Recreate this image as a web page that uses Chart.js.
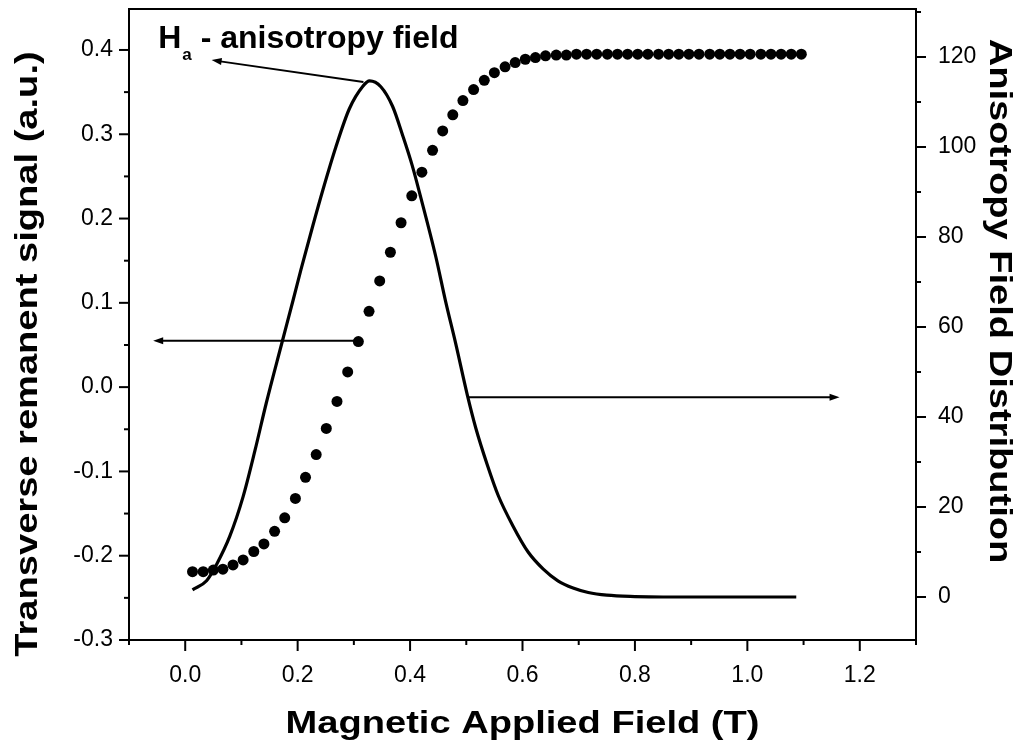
<!DOCTYPE html>
<html>
<head>
<meta charset="utf-8">
<script src="https://cdn.jsdelivr.net/npm/chart.js@4.4.0/dist/chart.umd.min.js"></script>
<style>
  html, body { margin: 0; padding: 0; background: #fff; }
</style>
</head>
<body>
<canvas id="grafico" width="1029" height="744"></canvas>
<script>
// Transverse remanent signal (dots, left axis)
const fieldDots = [0.013, 0.032, 0.050, 0.067, 0.085, 0.103, 0.122, 0.140, 0.159, 0.177,
  0.196, 0.214, 0.233, 0.251, 0.270, 0.289, 0.308, 0.327, 0.346, 0.365,
  0.384, 0.403, 0.421, 0.440, 0.458, 0.476, 0.494, 0.513, 0.532, 0.550,
  0.569, 0.587, 0.605, 0.623, 0.641, 0.660, 0.678, 0.696, 0.714, 0.732,
  0.751, 0.769, 0.787, 0.805, 0.823, 0.842, 0.860, 0.878, 0.896, 0.914,
  0.933, 0.951, 0.969, 0.987, 1.005, 1.024, 1.042, 1.060, 1.078, 1.096];
const remanentSignal = [-0.219, -0.219, -0.217, -0.216, -0.211, -0.205, -0.195, -0.186, -0.171, -0.155,
  -0.132, -0.107, -0.080, -0.049, -0.017, 0.018, 0.054, 0.090, 0.126, 0.160,
  0.195, 0.227, 0.255, 0.281, 0.304, 0.323, 0.340, 0.353, 0.364, 0.373,
  0.380, 0.385, 0.389, 0.391, 0.393, 0.394, 0.394, 0.395, 0.395, 0.395,
  0.395, 0.395, 0.395, 0.395, 0.395, 0.395, 0.395, 0.395, 0.395, 0.395,
  0.395, 0.395, 0.395, 0.395, 0.395, 0.395, 0.395, 0.395, 0.395, 0.395];

// Anisotropy field distribution (solid line, right axis)
const fieldCurve = [0.013, 0.038, 0.056, 0.079, 0.103, 0.124, 0.144, 0.171, 0.192, 0.206,
  0.227, 0.245, 0.268, 0.292, 0.316, 0.328, 0.348, 0.369, 0.387, 0.404,
  0.419, 0.446, 0.463, 0.481, 0.502, 0.517, 0.537, 0.557, 0.583, 0.610,
  0.637, 0.663, 0.690, 0.717, 0.750, 0.800, 0.850, 0.950, 1.087];
const distribution = [1.6, 3.6, 7.3, 13.4, 22.3, 32.5, 43.0, 56.0, 66.0, 72.8,
  82.5, 90.5, 100.0, 108.5, 113.5, 114.7, 113.4, 109.0, 102.5, 95.8,
  88.8, 75.5, 65.8, 56.4, 44.8, 37.5, 29.5, 22.5, 15.8, 10.0,
  6.2, 3.6, 2.0, 1.0, 0.4, 0.1, 0.0, 0.0, 0.0];

// Ticks (major ones carry a label)
const xMajorTicks = [0.0, 0.2, 0.4, 0.6, 0.8, 1.0, 1.2];
const xMinorTicks = [-0.1, 0.1, 0.3, 0.5, 0.7, 0.9, 1.1, 1.3];
const leftMajorTicks = [-0.3, -0.2, -0.1, 0.0, 0.1, 0.2, 0.3, 0.4];
const leftMinorTicks = [-0.25, -0.15, -0.05, 0.05, 0.15, 0.25, 0.35];
const rightMajorTicks = [0, 20, 40, 60, 80, 100, 120];
const rightMinorTicks = [10, 30, 50, 70, 90, 110, 130];

const xTitle = "Magnetic Applied Field (T)";
const leftTitle = "Transverse remanent signal (a.u.)";
const rightTitle = "Anisotropy Field Distribution";

const FONT = '"Liberation Sans", Arial, Helvetica, sans-serif';

// Checks if a value is in a list of ticks
function inList(list, v) {
  return list.some(t => Math.abs(t - v) < 1e-9);
}

function setTicks(major, minor) {
  return function (scale) {
    scale.ticks = major.concat(minor).sort((a, b) => a - b).map(v => ({ value: v }));
  };
}

function fixSize(prop, size) {
  return function (scale) {
    scale[prop] = size;
    scale.paddingTop = 0;
    scale.paddingBottom = 0;
    scale.paddingLeft = 0;
    scale.paddingRight = 0;
  };
}

// Draws an arrow with a filled head at (x2, y2)
function drawArrow(ctx, x1, y1, x2, y2) {
  const ang = Math.atan2(y2 - y1, x2 - x1);
  const len = 10, half = 3.5;
  ctx.beginPath();
  ctx.moveTo(x1, y1);
  ctx.lineTo(x2 - Math.cos(ang) * len * 0.7, y2 - Math.sin(ang) * len * 0.7);
  ctx.stroke();
  ctx.beginPath();
  ctx.moveTo(x2, y2);
  ctx.lineTo(x2 - len * Math.cos(ang) + half * Math.sin(ang), y2 - len * Math.sin(ang) - half * Math.cos(ang));
  ctx.lineTo(x2 - len * Math.cos(ang) - half * Math.sin(ang), y2 - len * Math.sin(ang) + half * Math.cos(ang));
  ctx.closePath();
  ctx.fill();
}

// Arrows in data units of the x and left axes: [x1, y1, x2, y2]
const arrows = [
  [0.317, 0.362, 0.047, 0.388],
  [0.300, 0.055, -0.057, 0.055],
  [0.503, -0.012, 1.164, -0.012]
];
const labelAnchor = [-0.048, 0.4024];

// Tick marks, frame, arrows, annotation and axis titles
const decorPlugin = {
  id: "decor",
  afterDraw(chart) {
    const ctx = chart.ctx;
    const { x, y, y2 } = chart.scales;
    const area = chart.chartArea;
    ctx.save();
    ctx.strokeStyle = "#000";
    ctx.fillStyle = "#000";
    ctx.lineWidth = 2;

    // top frame line
    ctx.beginPath();
    ctx.moveTo(area.left - 1, area.top);
    ctx.lineTo(area.right + 1, area.top);
    ctx.stroke();

    // tick marks
    x.ticks.forEach(t => {
      const px = x.getPixelForValue(t.value);
      const len = inList(xMajorTicks, t.value) ? 11 : 5;
      ctx.beginPath(); ctx.moveTo(px, area.bottom); ctx.lineTo(px, area.bottom + len); ctx.stroke();
    });
    y.ticks.forEach(t => {
      const py = y.getPixelForValue(t.value);
      const len = inList(leftMajorTicks, t.value) ? 10 : 5;
      ctx.beginPath(); ctx.moveTo(area.left, py); ctx.lineTo(area.left - len, py); ctx.stroke();
    });
    y2.ticks.forEach(t => {
      const py = y2.getPixelForValue(t.value);
      const len = inList(rightMajorTicks, t.value) ? 10 : 5;
      ctx.beginPath(); ctx.moveTo(area.right, py); ctx.lineTo(area.right + len, py); ctx.stroke();
    });

    // arrows
    ctx.lineWidth = 1.8;
    arrows.forEach(a => {
      drawArrow(ctx, x.getPixelForValue(a[0]), y.getPixelForValue(a[1]),
        x.getPixelForValue(a[2]), y.getPixelForValue(a[3]));
    });

    // H_a annotation
    const hx = x.getPixelForValue(labelAnchor[0]);
    const hy = y.getPixelForValue(labelAnchor[1]);
    ctx.textAlign = "left";
    ctx.textBaseline = "alphabetic";
    ctx.font = "bold 32px " + FONT;
    ctx.fillText("H", hx, hy);
    const hw = ctx.measureText("H").width;
    ctx.font = "bold 17px " + FONT;
    ctx.fillText("a", hx + hw + 1, hy + 12);
    const aw = ctx.measureText("a").width;
    ctx.font = "bold 32px " + FONT;
    ctx.fillText(" - anisotropy field", hx + hw + aw + 1, hy);

    // axis titles (wide bold face)
    ctx.font = "bold 32px " + FONT;
    ctx.textAlign = "center";
    const stretch = 1.19;
    const titles = [
      [xTitle, (area.left + area.right) / 2, 733, 0],
      [leftTitle, 37, 354, -Math.PI / 2],
      [rightTitle, 990, 301, Math.PI / 2]
    ];
    titles.forEach(([text, tx, ty, rot]) => {
      ctx.save();
      ctx.translate(tx, ty);
      ctx.rotate(rot);
      ctx.scale(stretch, 1);
      ctx.fillText(text, 0, 0);
      ctx.restore();
    });
    ctx.restore();
  }
};

function drawChart() {
  const ctx = document.getElementById("grafico").getContext("2d");
  new Chart(ctx, {
    type: "scatter",
    data: {
      datasets: [
        {
          label: "Transverse remanent signal",
          data: fieldDots.map((v, i) => ({ x: v, y: remanentSignal[i] })),
          yAxisID: "y",
          pointRadius: 5.5,
          pointHoverRadius: 5.5,
          pointBackgroundColor: "#000",
          pointBorderWidth: 0,
          showLine: false,
        },
        {
          label: "Anisotropy field distribution",
          data: fieldCurve.map((v, i) => ({ x: v, y: distribution[i] })),
          yAxisID: "y2",
          showLine: true,
          borderColor: "#000",
          borderWidth: 3.2,
          pointRadius: 0,
          cubicInterpolationMode: "monotone",
          fill: false,
        },
      ],
    },
    options: {
      responsive: false,
      animation: false,
      devicePixelRatio: 1,
      layout: { padding: { top: 9, left: 0, right: 0, bottom: 0 } },
      plugins: {
        legend: { display: false },
        tooltip: { enabled: false },
      },
      scales: {
        x: {
          type: "linear",
          position: "bottom",
          min: -0.1,
          max: 1.3,
          afterBuildTicks: setTicks(xMajorTicks, xMinorTicks),
          afterFit: fixSize("height", 104),
          grid: { display: false, drawTicks: false },
          border: { display: true, color: "#000", width: 2 },
          ticks: {
            autoSkip: false,
            maxRotation: 0,
            padding: 22,
            color: "#000",
            font: { family: FONT, size: 23 },
            callback: (v) => (inList(xMajorTicks, v) ? v.toFixed(1) : ""),
          },
        },
        y: {
          type: "linear",
          position: "left",
          min: -0.3,
          max: 0.4486,
          afterBuildTicks: setTicks(leftMajorTicks, leftMinorTicks),
          afterFit: fixSize("width", 129),
          grid: { display: false, drawTicks: false },
          border: { display: true, color: "#000", width: 2 },
          ticks: {
            autoSkip: false,
            padding: 16,
            color: "#000",
            font: { family: FONT, size: 23 },
            callback: (v) => (inList(leftMajorTicks, v) ? v.toFixed(1) : ""),
          },
        },
        y2: {
          type: "linear",
          position: "right",
          min: -9.56,
          max: 130.67,
          afterBuildTicks: setTicks(rightMajorTicks, rightMinorTicks),
          afterFit: fixSize("width", 113),
          grid: { display: false, drawTicks: false },
          border: { display: true, color: "#000", width: 2 },
          ticks: {
            autoSkip: false,
            padding: 22,
            color: "#000",
            font: { family: FONT, size: 23 },
            callback: (v) => (inList(rightMajorTicks, v) ? String(v) : ""),
          },
        },
      },
    },
    plugins: [decorPlugin],
  });
}

document.addEventListener("DOMContentLoaded", drawChart);
</script>
</body>
</html>
